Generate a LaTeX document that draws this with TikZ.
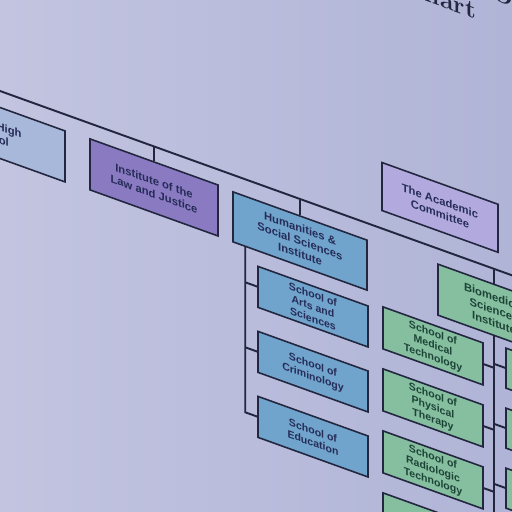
\documentclass[tikz,border=0pt]{standalone}
\usepackage{fontspec}
\setsansfont{Liberation Sans}
\usetikzlibrary{calc}
\definecolor{wallL}{HTML}{C2C4E0}
\definecolor{wallR}{HTML}{B0B4D6}
\definecolor{ink}{HTML}{23263F}
\definecolor{boxtext}{HTML}{262C58}
\definecolor{greentext}{HTML}{1C4436}
\definecolor{hsfill}{HTML}{A8B8DA}
\definecolor{lawfill}{HTML}{8A7AC2}
\definecolor{acadfill}{HTML}{B2AADE}
\definecolor{bluefill}{HTML}{70A4CC}
\definecolor{greenfill}{HTML}{86BEA0}
\tikzset{
 box/.style={draw=ink, line width=.9pt, align=center, inner sep=1pt, text=boxtext,
   font=\sffamily\bfseries\fontsize{6.4}{7.4}\selectfont},
 topbox/.style={box, minimum height=1.02cm},
 blueschool/.style={box, fill=bluefill, minimum width=2.2cm, minimum height=.82cm,
   font=\sffamily\bfseries\fontsize{6}{6.9}\selectfont},
 greenschool/.style={box, fill=greenfill, text=greentext, minimum width=2cm, minimum height=.84cm,
   font=\sffamily\bfseries\fontsize{6}{6.9}\selectfont},
 link/.style={ink, line width=1.1pt}
}

\begin{document}
\begin{tikzpicture}[x=.02cm, y=.02cm]
\shade[left color=wallL, right color=wallR] (0,0) rectangle (512,512);
\useasboundingbox (0,0) rectangle (512,512);
\clip (0,0) rectangle (512,512);
\begin{scope}[cm={1,-.36,0,1,(0,0)}, transform shape]
% title
\node[anchor=base east, text=ink, font=\bfseries\fontsize{14}{16}\selectfont] (title) at (482,664) {Chart};
\node[anchor=base west, text=ink, font=\bfseries\fontsize{14}{16}\selectfont] (titletop) at (486,690) {Organizational};
% top row
\coordinate (busL) at (-20,421);
\coordinate (busR) at (640,421);
\draw[link] (busL) -- (busR);
\node[topbox, fill=hsfill, minimum width=3cm] (hs) at (-10,379) {Senior High\\School};
\node[topbox, fill=lawfill, minimum width=2.56cm] (law) at (154,380) {Institute of the\\Law and Justice};
\node[topbox, fill=bluefill, minimum width=2.68cm, minimum height=1cm] (hum) at (300,379) {Humanities \&\\Social Sciences\\Institute};
\node[topbox, fill=greenfill, text=greentext, minimum width=2.24cm] (bio) at (494,380) {Biomedical\\Sciences\\Institute};
\node[box, fill=acadfill, minimum width=2.32cm, minimum height=.96cm] (acad) at (440,463) {The Academic\\Committee};
\foreach \n in {law,hum,bio}
 \draw[link] (\n.north) -- (\n.north |- busL);
% humanities schools
\node[blueschool] (arts) at (313,318) {School of\\Arts and\\Sciences};
\node[blueschool] (crim) at (313,253) {School of\\Criminology};
\node[blueschool] (edu) at (313,188) {School of\\Education};
\draw[link] (hum.south west) ++(13,0) coordinate (humtrunk) -- (humtrunk |- edu.west) -- (edu.west);
\foreach \n in {arts,crim}
 \draw[link] (humtrunk |- \n.west) -- (\n.west);
% biomedical schools
\node[greenschool] (medtech) at (433,322) {School of\\Medical\\Technology};
\node[greenschool] (pt) at (433,260) {School of\\Physical\\Therapy};
\node[greenschool] (radtech) at (433,198) {School of\\Radiologic\\Technology};
\node[greenschool] (pharm) at (433,136) {School of\\Pharmacy};
\node[greenschool, minimum height=.8cm] (rc1) at (556,326) {};
\node[greenschool, minimum height=.8cm] (rc2) at (556,266) {};
\node[greenschool, minimum height=.8cm] (rc3) at (556,206) {};
\coordinate (bioend) at (494,80);
\draw[link] (bio.south) -- (bioend);
\foreach \n in {medtech,pt,radtech}
 \draw[link] (\n.east) -- (\n.east -| bio.south);
\foreach \n in {rc1,rc2,rc3}
 \draw[link] (\n.west) -- (\n.west -| bio.south);
\end{scope}
\end{tikzpicture}
\end{document}
